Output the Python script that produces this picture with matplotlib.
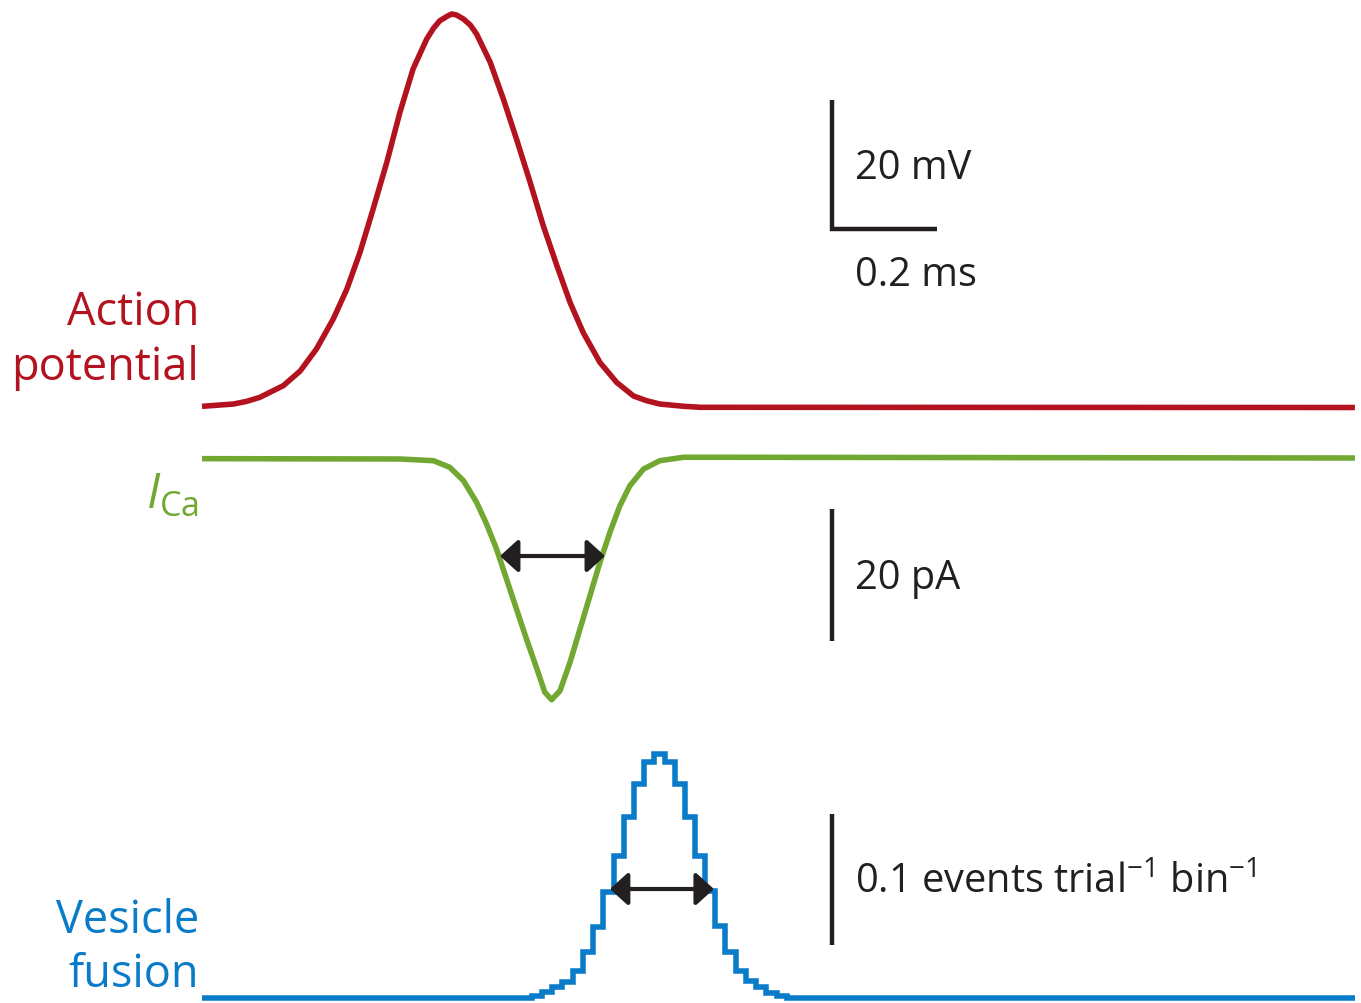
import numpy as np
import matplotlib.pyplot as plt

plt.rcParams['font.family'] = ['Open Sans', 'DejaVu Sans']
plt.rcParams['mathtext.fontset'] = 'custom'
plt.rcParams['mathtext.rm'] = 'Open Sans'
plt.rcParams['mathtext.it'] = 'Open Sans:italic'

# action potential (ms, mV above rest)
ap_t = [0.000, 0.060, 0.085, 0.110, 0.155, 0.187, 0.218, 0.250, 0.276, 0.301,
        0.326, 0.352, 0.377, 0.402, 0.428, 0.441, 0.453, 0.469, 0.476, 0.485,
        0.498, 0.511, 0.523, 0.549, 0.574, 0.599, 0.625, 0.650, 0.676, 0.701,
        0.726, 0.758, 0.790, 0.822, 0.847, 0.872, 0.917, 0.949, 2.196]
ap_mv = [0.18, 0.54, 0.95, 1.57, 3.39, 5.66, 9.07, 13.72, 18.37, 24.06,
         30.78, 38.01, 45.76, 52.48, 57.13, 58.80, 59.97, 60.75, 61.01, 60.85,
         60.23, 59.30, 57.91, 53.52, 47.83, 41.63, 34.91, 28.19, 21.99, 16.30,
         11.63, 6.98, 3.88, 1.78, 1.05, 0.54, 0.19, 0.03, 0.0]

# calcium current (ms, pA)
ca_t = [0.000, 0.377, 0.441, 0.472, 0.498, 0.523, 0.542, 0.561, 0.580, 0.599,
        0.618, 0.638, 0.653, 0.666, 0.682, 0.701, 0.720, 0.739, 0.758, 0.777,
        0.796, 0.815, 0.841, 0.872, 0.917, 0.987, 2.196]
ca_pa = [-0.1, -0.15, -0.41, -1.41, -3.44, -6.71, -10.0, -13.79, -18.33, -22.88,
         -27.42, -31.97, -35.50, -36.62, -35.26, -30.95, -25.91, -20.86, -15.80,
         -11.26, -7.23, -4.20, -1.67, -0.41, 0.11, 0.11, 0.0]

# vesicle fusion histogram (events per trial per bin)
fus_edges = [0.0, 0.628, 0.647, 0.667, 0.686, 0.706, 0.725, 0.745, 0.764, 0.784,
             0.803, 0.822, 0.842, 0.861, 0.881, 0.900, 0.920, 0.939, 0.958,
             0.978, 0.997, 1.017, 1.036, 1.056, 1.075, 1.095, 1.114, 2.196]
fus_rate = [0.0, 0.0015, 0.0046, 0.0084, 0.0122, 0.0206, 0.0351, 0.0542, 0.0809,
            0.1084, 0.1382, 0.1634, 0.1802, 0.1863, 0.1802, 0.1634, 0.1382,
            0.1084, 0.0817, 0.0550, 0.0351, 0.0206, 0.0130, 0.0084, 0.0038,
            0.0015, 0.0]

red = '#B3121F'
green = '#70A832'
blue = '#0A7BC8'
black = '#231F20'
lw = 4.0

W, H = 1361, 1004
fig = plt.figure(figsize=(W / 100, H / 100), dpi=100)

px_per_ms = 525.0
xlim = (-202 / px_per_ms, (W - 202) / px_per_ms)


def make_ax(base_px, px_per_unit):
    ax = fig.add_axes([0, 0, 1, 1])
    ax.patch.set_alpha(0)
    ax.set_xlim(*xlim)
    ax.set_ylim(-(H - base_px) / px_per_unit, base_px / px_per_unit)
    ax.axis('off')
    return ax


ax1 = make_ax(408.5, 6.45)
ax2 = make_ax(459, 6.6)
ax3 = make_ax(999, 1310.0)

ax1.plot(ap_t, ap_mv, color=red, lw=lw, solid_capstyle='butt', solid_joinstyle='round')
ax2.plot(ca_t, ca_pa, color=green, lw=lw, solid_capstyle='butt', solid_joinstyle='round')
st = ax3.stairs(fus_rate, fus_edges, color=blue, lw=lw, baseline=None)
st.set_joinstyle('miter')

# scale bars
sb_x = 1.2
ax1.plot([sb_x, sb_x, sb_x + 0.2], [47.75, 27.75, 27.75], color=black, lw=3.2,
         solid_joinstyle='miter', solid_capstyle='butt')
ax2.plot([sb_x, sb_x], [-7.73, -27.73], color=black, lw=3.2, solid_capstyle='butt')
ax3.plot([sb_x, sb_x], [0.1405, 0.0405], color=black, lw=3.2, solid_capstyle='butt')

# width arrows
arr = dict(arrowstyle='<|-|>,head_length=0.55,head_width=0.5', color=black,
           lw=3, mutation_scale=20, shrinkA=0, shrinkB=0)
ax2.annotate('', xy=(0.7676, -14.85), xytext=(0.5676, -14.85), arrowprops=arr)
ax3.annotate('', xy=(0.975, 0.0832), xytext=(0.777, 0.0832), arrowprops=arr)


def ftxt(x, y, s, **kw):
    fig.text(x / W, 1 - y / H, s, **kw)


fs = 28.6
lfs = 32.5
ftxt(199, 325, 'Action', color=red, fontsize=lfs, ha='right', va='baseline')
ftxt(199, 380, 'potential', color=red, fontsize=lfs, ha='right', va='baseline')
ftxt(199, 509, r'$I_{\mathrm{Ca}}$', color=green, fontsize=35, ha='right', va='baseline')
ftxt(199, 933, 'Vesicle', color=blue, fontsize=lfs, ha='right', va='baseline')
ftxt(199, 987, 'fusion', color=blue, fontsize=lfs, ha='right', va='baseline')

ftxt(855, 179, '20 mV', color=black, fontsize=fs, ha='left', va='baseline')
ftxt(855, 286, '0.2 ms', color=black, fontsize=fs, ha='left', va='baseline')
ftxt(855, 589, '20 pA', color=black, fontsize=fs, ha='left', va='baseline')
ftxt(855, 893, r'0.1 events trial$^{-1}$ bin$^{-1}$', color=black,
     fontsize=fs, ha='left', va='baseline')

fig.savefig('out.png', dpi=100, facecolor='white')
